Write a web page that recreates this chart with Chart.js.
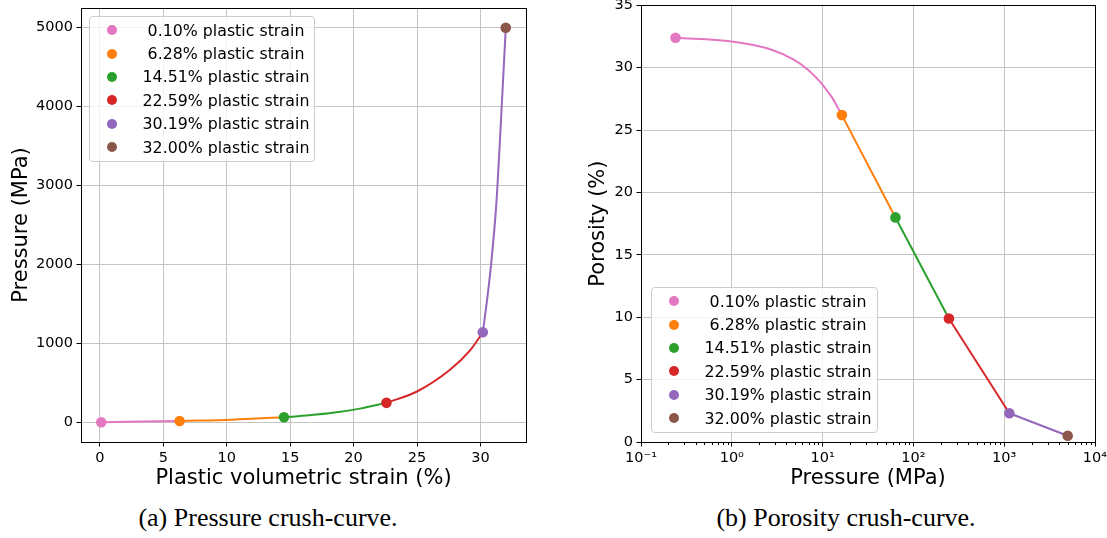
<!DOCTYPE html>
<html>
<head>
<meta charset="utf-8">
<script src="https://cdn.jsdelivr.net/npm/chart.js@4.4.1/dist/chart.umd.min.js"></script>
<style>
  html, body { margin: 0; padding: 0; background: #fff; }
  #page { position: relative; width: 1107px; height: 538px; overflow: hidden; background: #fff; }
  canvas { position: absolute; top: 0; }
  #crushChart { left: 0; }
  #porosityChart { left: 553px; }
  .legend { position: absolute; background: rgba(255,255,255,0.8); border: 1px solid #cccccc; border-radius: 4px;
            box-sizing: border-box; font-family: 'DejaVu Sans'; font-size: 15.8px; color: #000; }
  .legend .row { position: absolute; left: 0; right: 0; height: 23.4px; line-height: 23.4px; }
  .legend .dot { position: absolute; left: 17px; top: 6.7px; width: 10px; height: 10px; border-radius: 50%; }
  .legend .txt { position: absolute; left: 40px; width: 192px; text-align: center; white-space: nowrap; }
  .caption { position: absolute; font-family: 'Liberation Serif'; font-size: 26px; line-height: 30px;
             white-space: nowrap; transform: translateX(-50%); color: #000; }
</style>
</head>
<body>
<div id="page">
  <canvas id="crushChart" width="553" height="500"></canvas>
  <canvas id="porosityChart" width="554" height="500"></canvas>
  <div class="legend" id="legendA" style="left:89px; top:16px; width:226px; height:146px;"></div>
  <div class="legend" id="legendB" style="left:651px; top:287px; width:227px; height:146px;"></div>
  <div class="caption" style="left:268px; top:503px;">(a) Pressure crush-curve.</div>
  <div class="caption" style="left:846px; top:503px;">(b) Porosity crush-curve.</div>
</div>
<script>
// marked states along the crush curve
const strainPct   = [0.10, 6.28, 14.51, 22.59, 30.19, 32.00];
const pressureMPa = [0.24, 16.3, 63.4, 246, 1140, 5000];
const porosityPct = [32.4, 26.2, 18.0, 9.9, 2.3, 0.5];
const legendLabels = ['0.10% plastic strain', '6.28% plastic strain', '14.51% plastic strain',
                      '22.59% plastic strain', '30.19% plastic strain', '32.00% plastic strain'];

// pressure curve traced between the marked states (one list per segment)
const segStrain = [
  [0.10, 6.28],
  [6.28, 10.4, 14.51],
  [14.51, 16.5, 18.5, 20.5, 22.59],
  [22.59, 25.0, 27.6, 29.2, 30.19],
  [30.19, 30.47, 30.81, 31.26, 31.63, 32.00],
];
const segPressure = [
  [0.24, 16.3],
  [16.3, 33, 63.4],
  [63.4, 88, 123, 173, 246],
  [246, 390, 665, 915, 1140],
  [1140, 1480, 1950, 2780, 3850, 5000],
];

// porosity trace for the first segment (bends on the log axis)
const poreTraceP = [0.24, 1, 2.6, 4.75, 7, 8.5, 10, 11.5, 13, 14.7, 16.3];
const poreTraceV = [32.4, 32.1, 31.5, 30.66, 29.8, 29.2, 28.63, 28.05, 27.5, 26.8, 26.2];

// axis ticks
const strainTicks   = [0, 5, 10, 15, 20, 25, 30];
const pressureTicks = [0, 1000, 2000, 3000, 4000, 5000];
const porosityTicks = [0, 5, 10, 15, 20, 25, 30, 35];
const logTicks      = [0.1, 1, 10, 100, 1000, 10000];
const logTickLabels = ['10\u207B\u00B9', '10\u2070', '10\u00B9', '10\u00B2', '10\u00B3', '10\u2074'];

const colors = ['#e377c2', '#ff7f0e', '#2ca02c', '#d62728', '#9467bd', '#8c564b'];

const tickFont  = { family: 'DejaVu Sans', size: 14.5 };
const titleFont = { family: 'DejaVu Sans', size: 21 };
const gridColor = '#c4c4c4';

// black box around the plot area
const frame = {
  id: 'frame',
  afterDatasetsDraw(chart) {
    const { left, top, right, bottom } = chart.chartArea;
    const ctx = chart.ctx;
    ctx.save();
    ctx.strokeStyle = '#000';
    ctx.lineWidth = 1;
    ctx.strokeRect(Math.round(left) + 0.5, Math.round(top) + 0.5,
                   Math.round(right) - Math.round(left), Math.round(bottom) - Math.round(top));
    ctx.restore();
  }
};

// short unlabelled ticks between the decades
const minorTicks = {
  id: 'minorTicks',
  afterDraw(chart) {
    const xs = chart.scales.x;
    if (xs.type !== 'logarithmic') return;
    const ctx = chart.ctx;
    const y = Math.round(chart.chartArea.bottom) + 0.5;
    ctx.save();
    ctx.strokeStyle = '#000';
    ctx.lineWidth = 1;
    for (let d = 0.1; d < 10000; d *= 10) {
      for (let k = 2; k <= 9; k++) {
        const px = Math.round(xs.getPixelForValue(k * d)) + 0.5;
        ctx.beginPath();
        ctx.moveTo(px, y);
        ctx.lineTo(px, y + 2.5);
        ctx.stroke();
      }
    }
    ctx.restore();
  }
};

function axis(opts) {
  const vertical = opts.vertical;
  return {
    type: opts.type || 'linear',
    min: opts.min,
    max: opts.max,
    border: { display: false },
    grid: { color: gridColor, lineWidth: 1, tickLength: 4.5, tickColor: '#000', tickWidth: 1 },
    ticks: {
      font: tickFont, color: '#000', padding: 3.5, autoSkip: false, maxRotation: 0,
      callback: opts.labels ? (v) => { const i = opts.tickValues.indexOf(v); return i < 0 ? '' : opts.labels[i]; }
                            : (v) => String(v),
    },
    title: { display: true, text: opts.title, font: titleFont, color: '#000', padding: opts.titlePad },
    afterBuildTicks(scale) { scale.ticks = opts.tickValues.map(v => ({ value: v })); },
    afterFit(scale) {
      if (vertical) { scale.width = opts.size; scale.paddingTop = 0; scale.paddingBottom = 0; }
      else { scale.height = opts.size; scale.paddingLeft = 0; scale.paddingRight = 0; }
    },
  };
}

// (a) pressure vs plastic volumetric strain
const crushData = segStrain.map((xs, i) => ({
  label: legendLabels[i],
  data: xs.map((x, j) => ({ x, y: segPressure[i][j] })),
  showLine: true,
  borderColor: colors[i],
  borderWidth: 2,
  pointRadius: 0,
  cubicInterpolationMode: 'monotone',
  order: 1,
}));
crushData.push({
  label: 'markers',
  data: strainPct.map((x, i) => ({ x, y: pressureMPa[i] })),
  showLine: false,
  pointRadius: 5.3,
  pointBackgroundColor: colors,
  pointBorderWidth: 0,
  order: 0,
});

new Chart(document.getElementById('crushChart'), {
  type: 'scatter',
  data: { datasets: crushData },
  options: {
    responsive: false,
    animation: false,
    devicePixelRatio: 1,
    layout: { padding: { left: 0, top: 8, right: 27, bottom: 0 } },
    plugins: { legend: { display: false }, tooltip: { enabled: false } },
    scales: {
      x: axis({ min: -1.495, max: 33.595, tickValues: strainTicks, title: 'Plastic volumetric strain (%)',
                titlePad: { top: 0, bottom: 8.9 }, size: 58 }),
      y: axis({ vertical: true, min: -250, max: 5250, tickValues: pressureTicks, title: 'Pressure (MPa)',
                titlePad: { top: 9.4, bottom: 0 }, size: 81 }),
    },
  },
  plugins: [frame],
});

// (b) porosity vs pressure, log axis
const poreData = [{
  label: legendLabels[0],
  data: poreTraceP.map((x, j) => ({ x, y: poreTraceV[j] })),
  showLine: true,
  borderColor: colors[0],
  borderWidth: 2,
  pointRadius: 0,
  cubicInterpolationMode: 'monotone',
  order: 1,
}];
for (let i = 1; i < pressureMPa.length - 1; i++) {
  poreData.push({
    label: legendLabels[i],
    data: [{ x: pressureMPa[i], y: porosityPct[i] }, { x: pressureMPa[i + 1], y: porosityPct[i + 1] }],
    showLine: true,
    borderColor: colors[i],
    borderWidth: 2,
    pointRadius: 0,
    order: 1,
  });
}
poreData.push({
  label: 'markers',
  data: pressureMPa.map((x, i) => ({ x, y: porosityPct[i] })),
  showLine: false,
  pointRadius: 5.3,
  pointBackgroundColor: colors,
  pointBorderWidth: 0,
  order: 0,
});

new Chart(document.getElementById('porosityChart'), {
  type: 'scatter',
  data: { datasets: poreData },
  options: {
    responsive: false,
    animation: false,
    devicePixelRatio: 1,
    layout: { padding: { left: 0, top: 2, right: 12, bottom: 0 } },
    plugins: { legend: { display: false }, tooltip: { enabled: false } },
    scales: {
      x: axis({ type: 'logarithmic', min: 0.1, max: 10000, tickValues: logTicks, labels: logTickLabels,
                title: 'Pressure (MPa)', titlePad: { top: 0, bottom: 8.9 }, size: 58 }),
      y: axis({ vertical: true, min: 0, max: 35, tickValues: porosityTicks, title: 'Porosity (%)',
                titlePad: { top: 32.8, bottom: 0 }, size: 88 }),
    },
  },
  plugins: [frame, minorTicks],
});

// legends: marker dot + centred label
function fillLegend(id) {
  const box = document.getElementById(id);
  legendLabels.forEach((text, i) => {
    const row = document.createElement('div');
    row.className = 'row';
    row.style.top = (1.5 + i * 23.4) + 'px';
    row.innerHTML = '<span class="dot" style="background:' + colors[i] + '"></span><span class="txt">' + text + '</span>';
    box.appendChild(row);
  });
}
fillLegend('legendA');
fillLegend('legendB');
</script>
</body>
</html>
